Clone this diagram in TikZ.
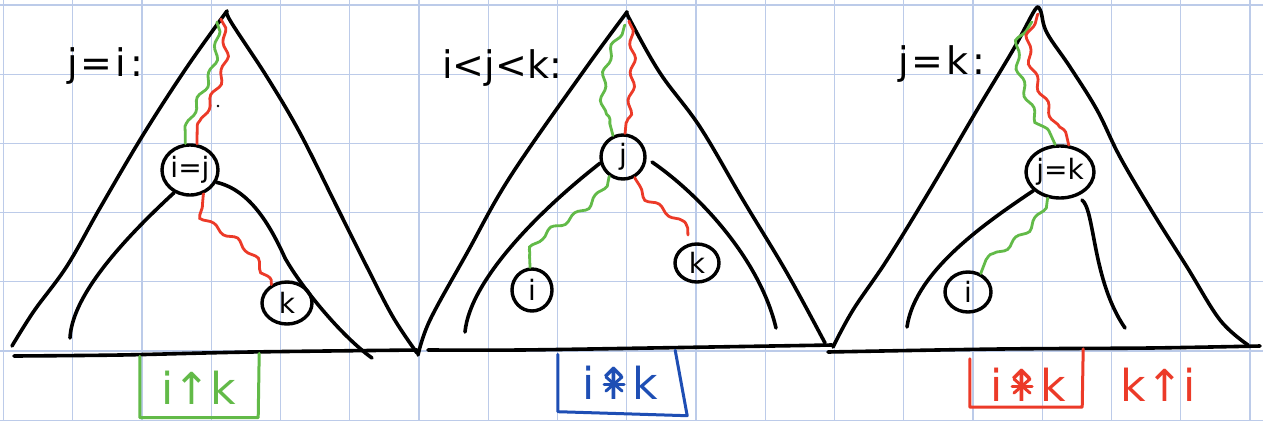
\documentclass[tikz,border=0pt]{standalone}
\usepackage{fontspec}
\setmainfont{DejaVu Sans}
\usetikzlibrary{shapes.geometric,decorations.pathmorphing}
\definecolor{gridc}{RGB}{188,203,233}
\definecolor{pgreen}{RGB}{98,186,72}
\definecolor{pred}{RGB}{236,58,40}
\definecolor{pblue}{RGB}{30,78,180}
\tikzset{
 ink/.style={line width=3.6pt, line cap=round, line join=round},
 circ/.style={ellipse, draw, line width=3.4pt, inner sep=0pt, font=\fontsize{28}{28}\selectfont},
 wig/.style={line width=2.8pt, line cap=round, decorate, decoration={snake, amplitude=2.6pt, segment length=28pt, pre length=1pt, post length=1pt}},
 gpath/.style={wig, draw=pgreen},
 rpath/.style={wig, draw=pred},
 title/.style={font=\fontsize{38}{38}\selectfont, inner sep=0pt},
 boxlab/.style={font=\fontsize{44}{44}\selectfont, inner sep=0pt},
 boxframe/.style={inner sep=0pt},
 boxline/.style={line width=3pt, line cap=round, line join=round},
 starline/.style={line width=3pt, line cap=round},
 gridline/.style={draw=gridc, line width=1.3pt}
}
\begin{document}
\begin{tikzpicture}[x=1pt,y=-1pt]
\useasboundingbox (0,0) rectangle (1263,421);
\fill[white] (0,0) rectangle (1263,421);
% grid paper
\foreach \i in {0,...,18} \draw[gridline] ({3.5+69.25*\i},0) -- ({3.5+69.25*\i},421);
\foreach \j in {0,...,6} \draw[gridline] (0,{5+69.2*\j}) -- (1263,{5+69.2*\j});

% ================= panel 1 =================
\draw[ink] plot[smooth, tension=0.6] coordinates {(12,346) (34,311) (67,266) (100,208) (143,135) (187,67) (227,11)};
\draw[ink] plot[smooth, tension=0.6] coordinates {(227,11) (231,22) (267,77) (300,133) (337,207) (367,267) (393,317) (417,353)};
\draw[ink] plot[smooth] coordinates {(14,356) (120,355) (250,352) (417,350)};
\node[title] (t1) at (105,66) {j\kern3pt=\kern3pt i\kern4pt:};
\node[circ, minimum width=56pt, minimum height=50pt] (n1) at (190,170) {i=j};
\node[circ, minimum width=50pt, minimum height=42pt] (n1k) at (287,303) {k};
\coordinate (c1l) at (70,338);
\coordinate (c1m) at (285,258);
\coordinate (c1r) at (372,358);
\draw[ink] (n1.235) .. controls (112,250) and (72,300) .. (c1l);
\draw[ink] (n1.-25) .. controls (250,190) and (270,225) .. (c1m) .. controls (300,285) and (340,335) .. (c1r);
\coordinate (g1) at (217,22);
\coordinate (r1) at (221,19);
\draw[gpath] (g1) .. controls (220,80) and (184,95) .. (n1.100);
\draw[rpath] (r1) .. controls (236,80) and (196,88) .. (n1.75);
\draw[rpath] (n1.300) .. controls (190,225) and (262,220) .. (n1k.130);
\fill (218,106) circle (1.3);
\node[boxframe, minimum width=118pt, minimum height=61pt] (b1) at (199,387) {};
\node[boxlab, text=pgreen] (b1t) at (199,388) {i↑k};
\draw[boxline, pgreen] (b1.north west) -- (b1.south west) -- (b1.south east) -- ([xshift=1pt,yshift=3pt]b1.north east);

% ================= panel 2 =================
\draw[ink] plot[smooth, tension=0.6] coordinates {(418,355) (430,320) (467,253) (510,177) (583,72) (627,12)};
\draw[ink] plot[smooth, tension=0.6] coordinates {(627,12) (630,20) (660,73) (700,127) (743,200) (787,273) (825,343)};
\draw[ink] plot[smooth] coordinates {(428,350) (520,350) (650,348) (832,345)};
\node[title] (t2) at (502,68) {i<j<k:};
\node[circ, minimum width=44pt, minimum height=44pt] (n2j) at (623,157) {j};
\node[circ, minimum width=40pt, minimum height=42pt] (n2i) at (532,290) {i};
\node[circ, minimum width=44pt, minimum height=38pt] (n2k) at (697,263) {k};
\coordinate (c2l) at (465,332);
\coordinate (c2r1) at (652,162);
\coordinate (c2r2) at (776,328);
\draw[ink] (n2j.195) .. controls (540,210) and (470,280) .. (c2l);
\draw[ink] (c2r1) .. controls (700,195) and (760,260) .. (c2r2);
\coordinate (g2) at (625,25);
\coordinate (r2) at (629,21);
\coordinate (c2k) at (688,235);
\draw[gpath] (g2) .. controls (603,60) and (603,100) .. (n2j.115);
\draw[rpath] (r2) .. controls (636,60) and (628,100) .. (n2j.85);
\draw[gpath] (n2j.235) .. controls (585,225) and (528,215) .. (n2i.95);
\draw[rpath] (n2j.300) .. controls (640,200) and (685,205) .. (c2k);
\node[boxframe, minimum width=121pt, minimum height=57pt] (b2) at (618.5,383) {};
\node[boxlab, text=pblue] (b2u) at (614,383) {↑};
\node[boxlab, text=pblue, anchor=base east] (b2i) at (b2u.base west) {i};
\node[boxlab, text=pblue, anchor=base west] (b2k) at (b2u.base east) {k};
\draw[starline, pblue] ([xshift=-10pt,yshift=-1pt]b2u.center) -- ([xshift=10pt,yshift=-1pt]b2u.center);
\draw[starline, pblue] ([shift={(-8pt,-8pt)}]b2u.center) -- ([shift={(8pt,6pt)}]b2u.center);
\draw[starline, pblue] ([shift={(-8pt,6pt)}]b2u.center) -- ([shift={(8pt,-8pt)}]b2u.center);
\draw[boxline, pblue] (b2.north west) -- (b2.south west) -- ([xshift=8pt,yshift=-4pt]b2.south east) -- ([xshift=-4pt,yshift=4pt]b2.north east);

% ================= panel 3 =================
\draw[ink] plot[smooth, tension=0.6] coordinates {(833,347) (853,310) (887,260) (930,190) (977,110) (1013,50) (1033,13) (1038,7)};
\draw[ink] plot[smooth, tension=0.6] coordinates {(1038,7) (1041,12) (1047,33) (1070,67) (1097,110) (1120,157) (1153,213) (1187,267) (1220,320) (1248,345)};
\draw[ink] plot[smooth] coordinates {(828,352) (1000,349) (1150,348) (1260,346)};
\node[title] (t3) at (942,64) {j\kern3pt=\kern3pt k\kern4pt:};
\node[circ, minimum width=68pt, minimum height=52pt] (n3jk) at (1060,172) {j=k};
\node[circ, minimum width=46pt, minimum height=40pt] (n3i) at (968,292) {i};
\coordinate (c3l) at (907,327);
\coordinate (c3r1) at (1082,200);
\coordinate (c3r2) at (1125,328);
\draw[ink] (n3jk.215) .. controls (990,220) and (915,270) .. (c3l);
\draw[ink] (c3r1) .. controls (1095,210) and (1092,280) .. (c3r2);
\coordinate (g3) at (1032,22);
\coordinate (r3) at (1038,14);
\draw[gpath] (g3) .. controls (1005,45) and (1040,110) .. (n3jk.100);
\draw[rpath] (r3) .. controls (1015,50) and (1062,110) .. (n3jk.72);
\draw[gpath] (n3jk.245) .. controls (1030,240) and (985,245) .. (n3i.55);
\node[boxframe, minimum width=112pt, minimum height=48pt] (b3) at (1026,383) {};
\node[boxlab, text=pred] (b3u) at (1022,385) {↑};
\node[boxlab, text=pred, anchor=base east] (b3i) at (b3u.base west) {i};
\node[boxlab, text=pred, anchor=base west] (b3k) at (b3u.base east) {k};
\draw[starline, pred] ([xshift=-10pt,yshift=-1pt]b3u.center) -- ([xshift=10pt,yshift=-1pt]b3u.center);
\draw[starline, pred] ([shift={(-8pt,-8pt)}]b3u.center) -- ([shift={(8pt,6pt)}]b3u.center);
\draw[starline, pred] ([shift={(-8pt,6pt)}]b3u.center) -- ([shift={(8pt,-8pt)}]b3u.center);
\draw[boxline, pred] (b3.north west) -- (b3.south west) -- (b3.south east) -- ([xshift=1pt,yshift=10pt]b3.north east);
\node[boxlab, text=pred] (b4) at (1158,385) {k↑i};
\end{tikzpicture}
\end{document}
